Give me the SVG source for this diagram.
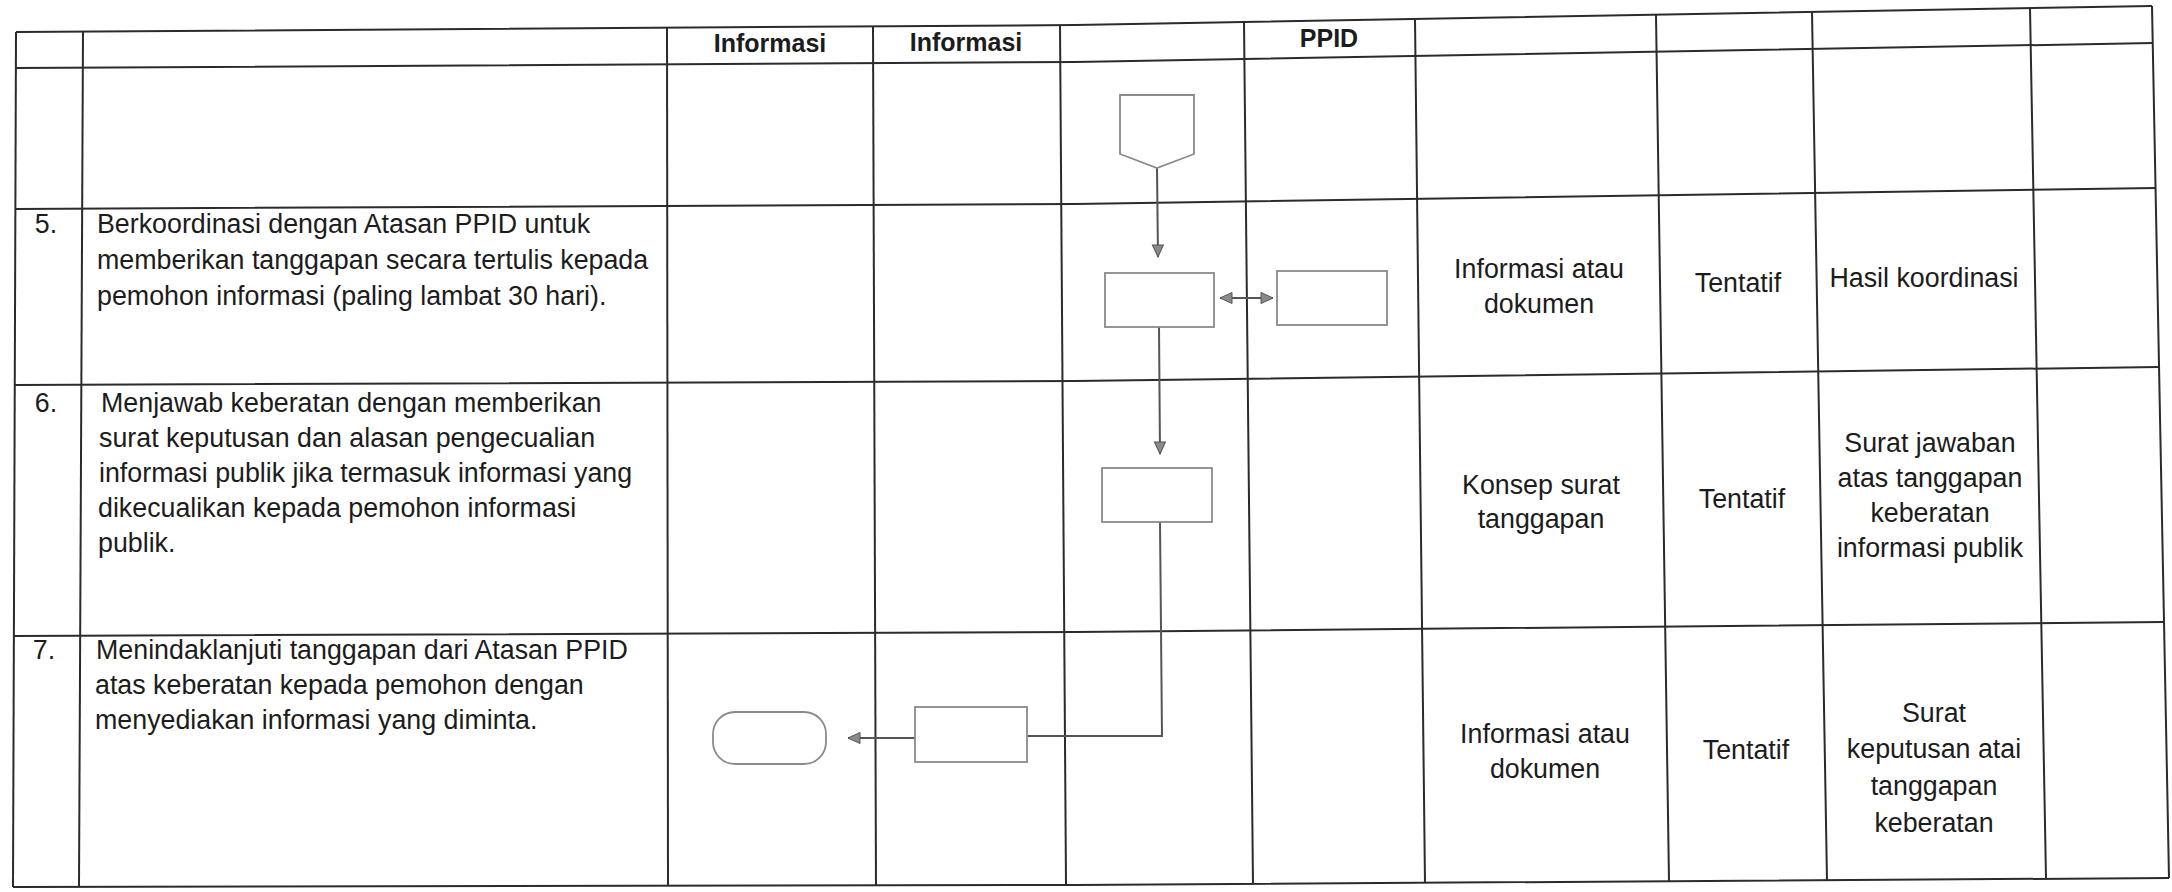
<svg xmlns="http://www.w3.org/2000/svg" width="2172" height="892" viewBox="0 0 2172 892">
<style>
.grid{fill:none;stroke:#2b2b2b;stroke-width:2;stroke-linejoin:round}
.shape{fill:#ffffff;stroke:#8a8a8a;stroke-width:1.8}
.conn{fill:none;stroke:#555;stroke-width:2}
.t{font-family:"Liberation Sans",Arial,sans-serif;font-size:26.8px;fill:#1c1c1c}
.h{font-family:"Liberation Sans",Arial,sans-serif;font-size:25px;font-weight:bold;fill:#1c1c1c}
.c{text-anchor:middle}
</style>
<defs>
<marker id="arr" markerUnits="userSpaceOnUse" markerWidth="14" markerHeight="14" viewBox="0 0 14 14" refX="13" refY="7" orient="auto-start-reverse">
<path d="M1,1.5 L13,7 L1,12.5 Z" fill="#8a8a8a" stroke="#555" stroke-width="1"/>
</marker>
</defs>
<rect x="0" y="0" width="2172" height="892" fill="#ffffff"/>
<g id="table">
<polyline class="grid" points="16,32 1075,25 2152,6"/>
<polyline class="grid" points="16,68 1075,62 2153,43"/>
<polyline class="grid" points="15,209 1075,204 2156,188"/>
<polyline class="grid" points="15,385 1075,381 2159,367"/>
<polyline class="grid" points="14,636 1075,632 2164,622"/>
<polyline class="grid" points="13,887 1075,885 2169,878"/>
<line class="grid" x1="16" y1="32" x2="13" y2="887"/>
<line class="grid" x1="83" y1="31.5" x2="79" y2="887"/>
<line class="grid" x1="667" y1="27.7" x2="668" y2="886"/>
<line class="grid" x1="873" y1="26.4" x2="876" y2="885.4"/>
<line class="grid" x1="1060" y1="25.1" x2="1066" y2="885"/>
<line class="grid" x1="1244" y1="22" x2="1253" y2="884"/>
<line class="grid" x1="1415" y1="19" x2="1425" y2="882.8"/>
<line class="grid" x1="1656" y1="14.8" x2="1669" y2="881.2"/>
<line class="grid" x1="1812" y1="12" x2="1827" y2="880.2"/>
<line class="grid" x1="2030" y1="8.2" x2="2046" y2="878.8"/>
<line class="grid" x1="2152" y1="6" x2="2169" y2="878"/>
</g>
<g id="header">
<text class="h c" x="770" y="52">Informasi</text>
<text class="h c" x="966" y="51">Informasi</text>
<text class="h c" x="1329" y="47">PPID</text>
</g>
<g id="row5">
<text class="t c" x="46" y="233">5.</text>
<text class="t" x="97" y="233">Berkoordinasi dengan Atasan PPID untuk</text>
<text class="t" x="97" y="269">memberikan tanggapan secara tertulis kepada</text>
<text class="t" x="97" y="305">pemohon informasi (paling lambat 30 hari).</text>
<text class="t c" x="1539" y="278">Informasi atau</text>
<text class="t c" x="1539" y="313">dokumen</text>
<text class="t c" x="1738" y="292">Tentatif</text>
<text class="t c" x="1924" y="287">Hasil koordinasi</text>
</g>
<g id="row6">
<text class="t c" x="46" y="412">6.</text>
<text class="t" x="101" y="412">Menjawab keberatan dengan memberikan</text>
<text class="t" x="99" y="447">surat keputusan dan alasan pengecualian</text>
<text class="t" x="99" y="482">informasi publik jika termasuk informasi yang</text>
<text class="t" x="98" y="517">dikecualikan kepada pemohon informasi</text>
<text class="t" x="98" y="552">publik.</text>
<text class="t c" x="1541" y="494">Konsep surat</text>
<text class="t c" x="1541" y="528">tanggapan</text>
<text class="t c" x="1742" y="508">Tentatif</text>
<text class="t c" x="1930" y="452">Surat jawaban</text>
<text class="t c" x="1930" y="487">atas tanggapan</text>
<text class="t c" x="1930" y="522">keberatan</text>
<text class="t c" x="1930" y="557">informasi publik</text>
</g>
<g id="row7">
<text class="t c" x="44" y="659">7.</text>
<text class="t" x="96" y="659">Menindaklanjuti tanggapan dari Atasan PPID</text>
<text class="t" x="95" y="694">atas keberatan kepada pemohon dengan</text>
<text class="t" x="95" y="729">menyediakan informasi yang diminta.</text>
<text class="t c" x="1545" y="743">Informasi atau</text>
<text class="t c" x="1545" y="778">dokumen</text>
<text class="t c" x="1746" y="759">Tentatif</text>
<text class="t c" x="1934" y="722">Surat</text>
<text class="t c" x="1934" y="758">keputusan atai</text>
<text class="t c" x="1934" y="795">tanggapan</text>
<text class="t c" x="1934" y="832">keberatan</text>
</g>
<g id="connectors">
<line class="conn" x1="1157" y1="168" x2="1158" y2="257" marker-end="url(#arr)"/>
<line class="conn" x1="1220" y1="298" x2="1273" y2="298" marker-start="url(#arr)" marker-end="url(#arr)"/>
<line class="conn" x1="1159" y1="327" x2="1160" y2="454" marker-end="url(#arr)"/>
<polyline class="conn" points="1160,522 1162,736 1027,736"/>
<line class="conn" x1="915" y1="738" x2="848" y2="738" marker-end="url(#arr)"/>
</g>
<g id="offpage1"><polygon class="shape" points="1120,95 1194,95 1194,154 1157,168 1120,154"/></g>
<g id="process1"><rect class="shape" x="1105" y="273" width="109" height="54"/></g>
<g id="process2"><rect class="shape" x="1277" y="271" width="110" height="54"/></g>
<g id="process3"><rect class="shape" x="1102" y="468" width="110" height="54"/></g>
<g id="process4"><rect class="shape" x="915" y="707" width="112" height="55"/></g>
<g id="terminator"><rect class="shape" x="713" y="712" width="113" height="52" rx="22" ry="22"/></g>
</svg>
